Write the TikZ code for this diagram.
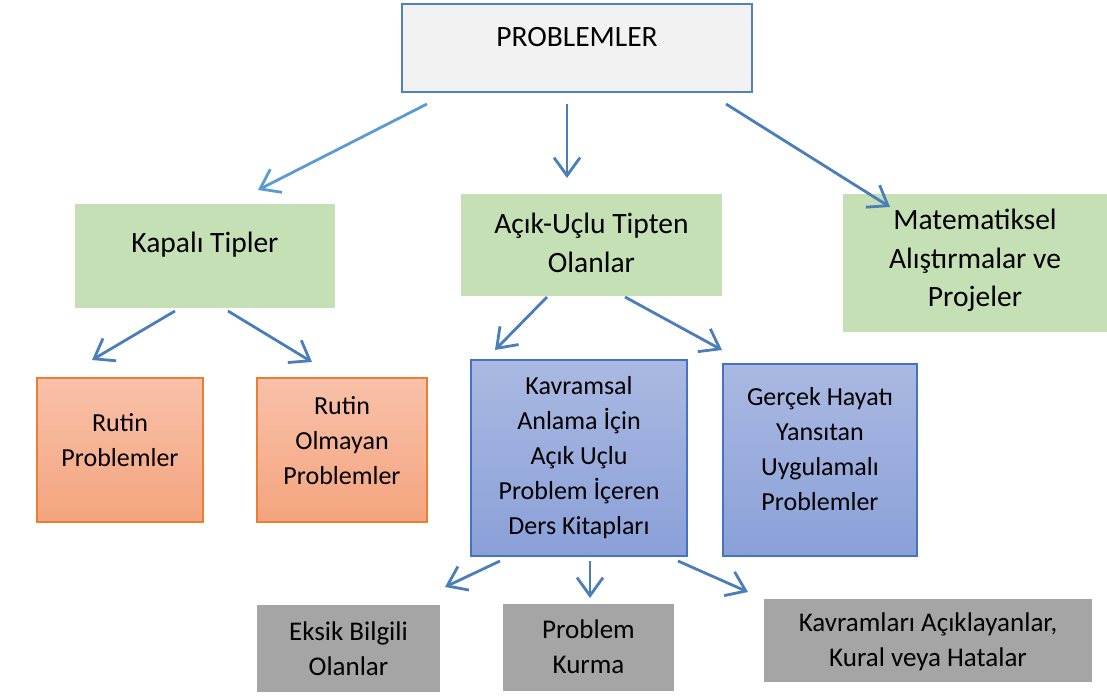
\documentclass[tikz,border=0pt]{standalone}
\usepackage{fontspec}
\setmainfont{Carlito}
\usetikzlibrary{arrows.meta}
\definecolor{arrblue}{HTML}{4A7EBB}
\definecolor{arrlight}{HTML}{5B9BD5}
\definecolor{topborder}{HTML}{4F81BD}
\definecolor{topfill}{HTML}{F2F2F2}
\definecolor{greenfill}{HTML}{C5E0B4}
\definecolor{orangetop}{HTML}{F8C1A9}
\definecolor{orangebot}{HTML}{F4A47E}
\definecolor{orangeline}{HTML}{ED7D31}
\definecolor{bluetop}{HTML}{AAB9E2}
\definecolor{bluebot}{HTML}{8AA0D8}
\definecolor{blueline}{HTML}{4472C4}
\definecolor{grayfill}{HTML}{A5A5A5}
\tikzset{
  box/.style={rectangle, inner sep=0pt, outer sep=0pt},
  topbox/.style={box, draw=topborder, line width=2.2pt, fill=topfill},
  greenbox/.style={box, fill=greenfill},
  orangebox/.style={box, draw=orangeline, line width=1.3pt, top color=orangetop, bottom color=orangebot},
  bluebox/.style={box, draw=blueline, line width=1.3pt, top color=bluetop, bottom color=bluebot},
  graybox/.style={box, draw=white, line width=2.5pt, fill=grayfill},
  txt/.style={align=center, font=\fontsize{26}{35}\selectfont, inner sep=0pt},
  bigtxt/.style={txt, font=\fontsize{29.5}{38.5}\selectfont},
  graytxt/.style={txt, font=\fontsize{27}{35}\selectfont},
  arr/.style={draw=arrblue, line width=2.8pt, -{Straight Barb[length=18pt,width=26pt,line width=2.8pt]}},
}
\begin{document}
\begin{tikzpicture}[x=1pt,y=1pt]
\useasboundingbox (0,0) rectangle (1107,697);
\fill[white] (0,0) rectangle (1107,697);

% boxes
\node[topbox, minimum width=350pt, minimum height=88pt] (P) at (577,649) {};
\node[bigtxt] (Pt) at (577,660) {PROBLEMLER};

\node[greenbox, minimum width=260pt, minimum height=104pt] (K) at (205,441) {};
\node[bigtxt] (Kt) at (205,452) {Kapalı Tipler};

\node[greenbox, minimum width=261pt, minimum height=102pt] (A) at (591.5,452) {};
\node[bigtxt] (At) at (591.5,454) {Açık-Uçlu Tipten\\Olanlar};

\node[greenbox, minimum width=264pt, minimum height=138pt] (M) at (975,434) {};
\node[bigtxt] (Mt) at (975,436.5) {Matematiksel\\Alıştırmalar ve\\Projeler};

\node[orangebox, minimum width=166pt, minimum height=144pt] (R1) at (120,247) {};
\node[txt] (R1t) at (120,257) {Rutin\\Problemler};

\node[orangebox, minimum width=170pt, minimum height=144pt] (R2) at (342,247) {};
\node[txt] (R2t) at (342,256) {Rutin\\Olmayan\\Problemler};

\node[bluebox, minimum width=216pt, minimum height=196pt] (Kv) at (579,239) {};
\node[txt] (Kvt) at (579,239.5) {Kavramsal\\Anlama İçin\\Açık Uçlu\\Problem İçeren\\Ders Kitapları};

\node[bluebox, minimum width=194pt, minimum height=192pt] (G) at (820,237) {};
\node[txt] (Gt) at (820,247.5) {Gerçek Hayatı\\Yansıtan\\Uygulamalı\\Problemler};

\node[graybox, minimum width=185pt, minimum height=89pt] (E) at (348.5,48.5) {};
\node[graytxt] (Et) at (348.5,48) {Eksik Bilgili\\Olanlar};

\node[graybox, minimum width=173pt, minimum height=89pt] (PK) at (588.5,49.5) {};
\node[graytxt] (PKt) at (588.5,50) {Problem\\Kurma};

\node[graybox, minimum width=330pt, minimum height=85pt] (KA) at (928,56.5) {};
\node[graytxt] (KAt) at (928,55) {Kavramları Açıklayanlar,\\Kural veya Hatalar};

% connectors
\draw[arr, draw=arrlight] ([shift={(25,-12)}]P.south west) -- ([shift={(53,14)}]K.north);
\draw[arr] ([shift={(-10,-12)}]P.south) -- ([shift={(-24.5,16)}]A.north);
\draw[arr] ([shift={(-26,-12)}]P.south east) -- ([shift={(47,-13)}]M.north west);

\draw[arr] ([shift={(-30,-3)}]K.south) -- ([shift={(-28,18)}]R1.north);
\draw[arr] ([shift={(23,-3)}]K.south) -- ([shift={(-30,16)}]R2.north);

\draw[arr] ([shift={(-44.5,-1)}]A.south) -- ([shift={(-84,10)}]Kv.north);
\draw[arr] ([shift={(33.5,-1)}]A.south) -- ([shift={(-98,14)}]G.north);

\draw[arr] ([shift={(-79,-5)}]Kv.south) -- ([shift={(96.5,17)}]E.north);
\draw[arr] ([shift={(11,-5)}]Kv.south) -- ([shift={(1.5,5)}]PK.north);
\draw[arr] ([shift={(99,-5)}]Kv.south) -- ([shift={(-180,6)}]KA.north);
\end{tikzpicture}
\end{document}
